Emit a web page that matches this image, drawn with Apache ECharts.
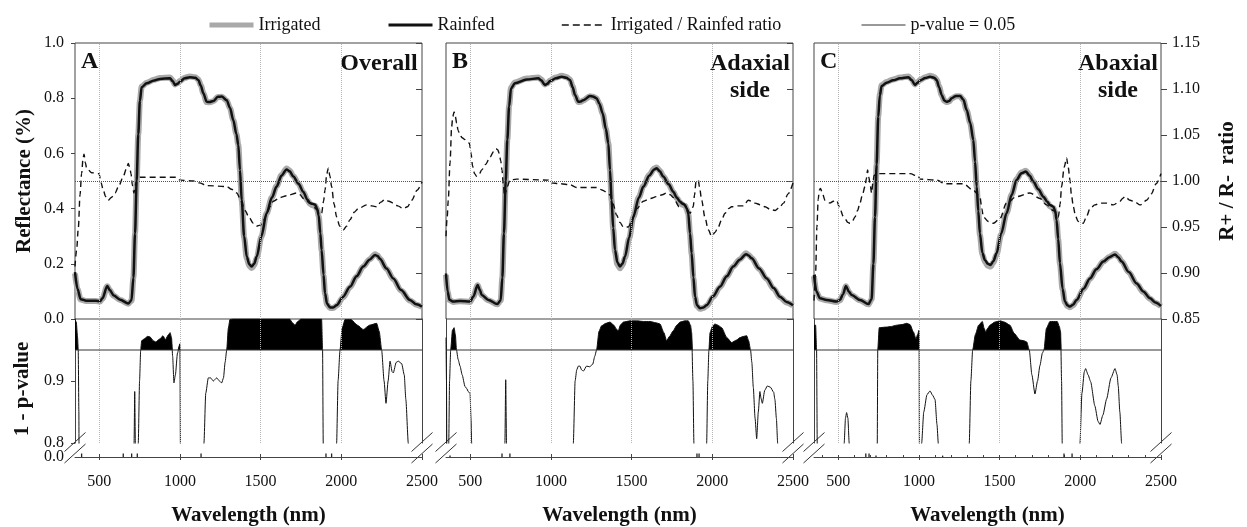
<!DOCTYPE html>
<html>
<head>
<meta charset="utf-8">
<script src="https://cdn.jsdelivr.net/npm/echarts@6/dist/echarts.min.js"></script>
<style>
  html, body { margin: 0; padding: 0; background: #fff; }
  #chart { width: 1247px; height: 527px; }
</style>
</head>
<body>
<div id="chart"></div>
<script>
// ---------------- data ----------------
const panelLetters = ['A', 'B', 'C'];
const panelTitles = ['Overall', 'Adaxial\nside', 'Abaxial\nside'];
const xTickValues = [500, 1000, 1500, 2000, 2500];
const minorTickValuesC = [400, 500, 600, 700, 800, 900, 1000, 1100, 1200, 1300, 1400, 1500, 1600, 1700, 1800, 1900, 2000, 2100, 2200, 2300, 2400, 2500];
const gridWavelengths = [500, 1000, 1500, 2000];
const ratioReference = 1.0;
const pThreshold = 0.95;   // 1 - p for p = 0.05

// Reflectance, panel A (overall)
const rainfedA = [[350,0.17],[365,0.11],[385,0.072],[420,0.066],[480,0.066],[505,0.064],[520,0.075],[550,0.12],[565,0.105],[590,0.085],[630,0.07],[680,0.056],[700,0.068],[712,0.15],[722,0.31],[732,0.5],[742,0.67],[752,0.79],[763,0.84],[794,0.854],[840,0.864],[877,0.87],[939,0.872],[955,0.862],[970,0.848],[985,0.852],[1000,0.86],[1030,0.872],[1062,0.876],[1095,0.874],[1114,0.866],[1130,0.845],[1145,0.818],[1166,0.787],[1185,0.786],[1207,0.79],[1235,0.805],[1259,0.806],[1290,0.793],[1310,0.765],[1331,0.72],[1350,0.67],[1362,0.63],[1372,0.54],[1383,0.43],[1398,0.3],[1414,0.226],[1430,0.198],[1445,0.19],[1460,0.2],[1476,0.226],[1505,0.3],[1537,0.383],[1570,0.44],[1599,0.48],[1630,0.52],[1661,0.542],[1680,0.535],[1703,0.516],[1735,0.49],[1765,0.46],[1790,0.432],[1806,0.42],[1820,0.418],[1837,0.415],[1850,0.4],[1860,0.375],[1870,0.31],[1878,0.25],[1890,0.16],[1899,0.093],[1912,0.055],[1930,0.042],[1950,0.042],[1971,0.05],[2010,0.08],[2054,0.117],[2095,0.155],[2136,0.19],[2175,0.215],[2209,0.232],[2225,0.228],[2239,0.218],[2280,0.183],[2322,0.147],[2370,0.105],[2425,0.069],[2465,0.053],[2500,0.045]];
const irrigatedA = [[350,0.165],[365,0.108],[385,0.071],[420,0.065],[480,0.065],[505,0.063],[520,0.074],[550,0.119],[565,0.104],[590,0.084],[630,0.069],[680,0.055],[700,0.067],[712,0.15],[722,0.31],[732,0.5],[742,0.67],[752,0.79],[763,0.842],[794,0.856],[840,0.867],[877,0.873],[939,0.875],[955,0.864],[970,0.85],[985,0.854],[1000,0.862],[1030,0.874],[1062,0.879],[1095,0.876],[1114,0.868],[1130,0.846],[1145,0.818],[1166,0.786],[1185,0.785],[1207,0.789],[1235,0.804],[1259,0.805],[1290,0.792],[1310,0.764],[1331,0.72],[1350,0.67],[1362,0.63],[1372,0.54],[1383,0.43],[1398,0.295],[1414,0.22],[1430,0.192],[1445,0.185],[1460,0.195],[1476,0.222],[1505,0.298],[1537,0.383],[1570,0.441],[1599,0.482],[1630,0.522],[1661,0.545],[1680,0.537],[1703,0.517],[1735,0.49],[1765,0.459],[1790,0.43],[1806,0.418],[1820,0.412],[1837,0.41],[1850,0.398],[1860,0.373],[1870,0.308],[1878,0.248],[1890,0.158],[1899,0.09],[1912,0.052],[1930,0.04],[1950,0.04],[1971,0.048],[2010,0.078],[2054,0.115],[2095,0.154],[2136,0.19],[2175,0.216],[2209,0.235],[2225,0.23],[2239,0.219],[2280,0.182],[2322,0.145],[2370,0.103],[2425,0.067],[2465,0.052],[2500,0.044]];

// Reflectance, panel B (adaxial side)
const rainfedB = [[350,0.165],[360,0.1],[371,0.07],[395,0.063],[437,0.065],[499,0.063],[519,0.081],[546,0.123],[560,0.105],[571,0.087],[612,0.069],[668,0.054],[689,0.068],[699,0.15],[709,0.31],[720,0.5],[730,0.65],[741,0.77],[753,0.836],[777,0.854],[850,0.868],[922,0.872],[940,0.865],[963,0.848],[978,0.852],[994,0.862],[1030,0.872],[1067,0.878],[1095,0.874],[1118,0.866],[1135,0.84],[1149,0.812],[1170,0.787],[1185,0.788],[1201,0.793],[1242,0.808],[1260,0.806],[1283,0.8],[1300,0.78],[1321,0.745],[1340,0.69],[1356,0.636],[1366,0.54],[1376,0.431],[1386,0.33],[1397,0.25],[1412,0.205],[1428,0.19],[1443,0.2],[1459,0.226],[1485,0.295],[1511,0.371],[1545,0.44],[1573,0.48],[1610,0.52],[1640,0.542],[1655,0.546],[1675,0.535],[1696,0.516],[1730,0.488],[1758,0.461],[1780,0.44],[1800,0.425],[1815,0.418],[1831,0.413],[1842,0.4],[1851,0.383],[1862,0.31],[1872,0.238],[1883,0.15],[1893,0.081],[1905,0.05],[1924,0.039],[1945,0.042],[1965,0.05],[2005,0.082],[2047,0.117],[2090,0.155],[2130,0.19],[2170,0.215],[2209,0.235],[2225,0.23],[2244,0.22],[2290,0.183],[2337,0.147],[2380,0.112],[2419,0.081],[2460,0.062],[2500,0.05]];
const irrigatedB = [[350,0.16],[360,0.098],[371,0.069],[395,0.062],[437,0.064],[499,0.062],[519,0.08],[546,0.122],[560,0.104],[571,0.086],[612,0.068],[668,0.053],[689,0.067],[699,0.15],[709,0.31],[720,0.5],[730,0.65],[741,0.772],[753,0.839],[777,0.857],[850,0.871],[922,0.875],[940,0.868],[963,0.85],[978,0.854],[994,0.864],[1030,0.875],[1067,0.881],[1095,0.877],[1118,0.868],[1135,0.842],[1149,0.812],[1170,0.786],[1185,0.787],[1201,0.792],[1242,0.807],[1260,0.805],[1283,0.799],[1300,0.779],[1321,0.744],[1340,0.69],[1356,0.636],[1366,0.54],[1376,0.43],[1386,0.325],[1397,0.244],[1412,0.198],[1428,0.184],[1443,0.195],[1459,0.222],[1485,0.292],[1511,0.37],[1545,0.441],[1573,0.482],[1610,0.522],[1640,0.545],[1655,0.549],[1675,0.537],[1696,0.517],[1730,0.488],[1758,0.46],[1780,0.438],[1800,0.422],[1815,0.414],[1831,0.41],[1842,0.398],[1851,0.381],[1862,0.308],[1872,0.236],[1883,0.148],[1893,0.078],[1905,0.047],[1924,0.037],[1945,0.04],[1965,0.048],[2005,0.08],[2047,0.115],[2090,0.154],[2130,0.19],[2170,0.216],[2209,0.238],[2225,0.232],[2244,0.221],[2290,0.182],[2337,0.145],[2380,0.11],[2419,0.079],[2460,0.06],[2500,0.049]];

// Reflectance, panel C (abaxial side)
const rainfedC = [[350,0.16],[365,0.1],[387,0.075],[428,0.069],[490,0.063],[511,0.069],[530,0.09],[548,0.12],[565,0.1],[583,0.087],[635,0.069],[687,0.054],[707,0.072],[718,0.2],[728,0.37],[738,0.56],[748,0.733],[758,0.81],[769,0.844],[800,0.856],[840,0.865],[883,0.872],[935,0.876],[955,0.866],[976,0.848],[990,0.855],[1007,0.864],[1040,0.873],[1069,0.878],[1095,0.874],[1110,0.866],[1125,0.84],[1141,0.812],[1157,0.792],[1172,0.787],[1188,0.79],[1203,0.8],[1230,0.808],[1255,0.808],[1275,0.795],[1296,0.757],[1318,0.71],[1337,0.649],[1348,0.57],[1358,0.48],[1368,0.39],[1378,0.31],[1393,0.24],[1409,0.214],[1427,0.2],[1444,0.196],[1462,0.21],[1481,0.238],[1510,0.31],[1543,0.383],[1575,0.45],[1605,0.504],[1635,0.528],[1663,0.534],[1685,0.52],[1709,0.498],[1740,0.47],[1771,0.443],[1795,0.425],[1812,0.413],[1833,0.407],[1845,0.39],[1853,0.359],[1863,0.29],[1874,0.202],[1890,0.11],[1905,0.063],[1920,0.05],[1936,0.045],[1955,0.052],[1977,0.069],[2020,0.11],[2060,0.147],[2100,0.18],[2143,0.208],[2180,0.224],[2215,0.234],[2235,0.224],[2256,0.208],[2300,0.17],[2349,0.129],[2390,0.1],[2432,0.075],[2465,0.06],[2500,0.047]];
const irrigatedC = [[350,0.155],[365,0.098],[387,0.074],[428,0.068],[490,0.062],[511,0.068],[530,0.089],[548,0.119],[565,0.099],[583,0.086],[635,0.068],[687,0.053],[707,0.071],[718,0.2],[728,0.37],[738,0.56],[748,0.735],[758,0.813],[769,0.847],[800,0.859],[840,0.868],[883,0.875],[935,0.879],[955,0.869],[976,0.85],[990,0.857],[1007,0.866],[1040,0.876],[1069,0.881],[1095,0.877],[1110,0.868],[1125,0.842],[1141,0.812],[1157,0.791],[1172,0.786],[1188,0.789],[1203,0.799],[1230,0.807],[1255,0.807],[1275,0.794],[1296,0.756],[1318,0.71],[1337,0.649],[1348,0.57],[1358,0.478],[1368,0.386],[1378,0.305],[1393,0.234],[1409,0.207],[1427,0.193],[1444,0.19],[1462,0.205],[1481,0.234],[1510,0.307],[1543,0.383],[1575,0.451],[1605,0.506],[1635,0.531],[1663,0.537],[1685,0.522],[1709,0.499],[1740,0.47],[1771,0.442],[1795,0.422],[1812,0.408],[1833,0.402],[1845,0.386],[1853,0.356],[1863,0.288],[1874,0.2],[1890,0.108],[1905,0.06],[1920,0.047],[1936,0.043],[1955,0.05],[1977,0.067],[2020,0.108],[2060,0.145],[2100,0.179],[2143,0.208],[2180,0.225],[2215,0.236],[2235,0.226],[2256,0.209],[2300,0.169],[2349,0.127],[2390,0.098],[2432,0.073],[2465,0.058],[2500,0.046]];

// Irrigated / Rainfed ratio
const ratioA = [[350,0.907],[360,0.925],[371,0.95],[381,0.985],[391,1.008],[400,1.025],[406,1.029],[414,1.02],[422,1.014],[453,1.009],[499,1.008],[512,0.998],[525,0.99],[540,0.983],[556,0.979],[575,0.982],[598,0.987],[625,0.996],[649,1.005],[668,1.013],[680,1.019],[689,1.015],[697,1.008],[706,0.995],[715,0.987],[723,0.995],[732,1.001],[753,1.004],[980,1.004],[1000,1.001],[1083,1.0],[1120,0.998],[1166,0.995],[1290,0.994],[1320,0.991],[1352,0.987],[1380,0.978],[1403,0.968],[1430,0.96],[1455,0.954],[1475,0.951],[1497,0.952],[1517,0.957],[1537,0.963],[1558,0.972],[1579,0.978],[1620,0.982],[1661,0.984],[1724,0.987],[1745,0.985],[1765,0.981],[1806,0.976],[1828,0.972],[1847,0.969],[1865,0.965],[1878,0.965],[1890,0.978],[1899,0.99],[1910,1.008],[1920,1.014],[1930,1.005],[1940,0.994],[1955,0.975],[1971,0.961],[1990,0.951],[2013,0.947],[2033,0.951],[2054,0.958],[2080,0.966],[2105,0.97],[2157,0.974],[2190,0.973],[2219,0.972],[2245,0.977],[2270,0.98],[2295,0.978],[2322,0.976],[2350,0.973],[2384,0.97],[2410,0.972],[2436,0.979],[2470,0.99],[2500,0.999]];
const ratioB = [[350,0.94],[357,0.96],[364,0.979],[375,1.02],[385,1.059],[392,1.07],[400,1.075],[408,1.07],[416,1.063],[425,1.055],[437,1.05],[450,1.047],[468,1.045],[480,1.043],[495,1.041],[505,1.03],[515,1.016],[527,1.008],[540,1.005],[555,1.007],[571,1.012],[595,1.018],[623,1.026],[645,1.032],[660,1.035],[670,1.034],[680,1.03],[689,1.022],[697,1.012],[705,0.996],[713,0.983],[721,0.988],[730,0.994],[746,1.001],[788,1.002],[984,1.001],[994,0.998],[1060,0.997],[1118,0.996],[1159,0.993],[1283,0.993],[1320,0.99],[1350,0.987],[1366,0.985],[1385,0.975],[1407,0.963],[1428,0.955],[1449,0.95],[1480,0.95],[1505,0.958],[1532,0.97],[1573,0.978],[1615,0.981],[1655,0.983],[1690,0.985],[1717,0.987],[1740,0.985],[1758,0.982],[1795,0.972],[1808,0.974],[1820,0.976],[1840,0.97],[1862,0.965],[1882,0.972],[1890,0.985],[1899,0.999],[1913,1.001],[1922,0.992],[1934,0.979],[1955,0.96],[1975,0.947],[1996,0.94],[2016,0.944],[2037,0.95],[2058,0.958],[2079,0.965],[2100,0.97],[2120,0.972],[2160,0.973],[2192,0.973],[2223,0.979],[2245,0.978],[2265,0.976],[2300,0.974],[2327,0.972],[2360,0.969],[2389,0.968],[2415,0.971],[2441,0.976],[2470,0.986],[2500,0.998]];
const ratioC = [[350,0.87],[360,0.9],[368,0.95],[376,0.98],[383,0.99],[390,0.992],[400,0.988],[418,0.979],[449,0.976],[470,0.978],[490,0.979],[511,0.97],[530,0.962],[542,0.959],[560,0.955],[573,0.954],[590,0.957],[604,0.961],[620,0.968],[635,0.976],[650,0.985],[666,0.994],[675,1.003],[682,1.012],[690,1.004],[697,0.997],[707,0.987],[715,0.998],[722,1.006],[749,1.008],[945,1.008],[996,1.005],[1007,1.002],[1110,1.001],[1162,0.997],[1275,0.997],[1337,0.99],[1378,0.983],[1390,0.97],[1399,0.961],[1430,0.956],[1461,0.954],[1502,0.959],[1543,0.976],[1605,0.983],[1688,0.987],[1750,0.981],[1791,0.974],[1833,0.968],[1864,0.961],[1875,0.975],[1884,0.994],[1900,1.015],[1915,1.025],[1925,1.015],[1936,1.001],[1945,0.985],[1957,0.972],[1970,0.962],[1987,0.956],[2000,0.954],[2018,0.954],[2040,0.962],[2060,0.97],[2090,0.974],[2122,0.976],[2160,0.976],[2204,0.974],[2246,0.978],[2262,0.981],[2277,0.983],[2290,0.981],[2308,0.979],[2340,0.977],[2370,0.974],[2411,0.979],[2440,0.986],[2470,0.997],[2500,1.008]];

// 1 - p-value (values under 0.8 fall in the axis break and are cut off)
const pCurveA = [[350,1.0],[358,0.995],[366,0.97],[370,0.95],[374,0.85],[376,0.7],[713,0.7],[716,0.8],[720,0.883],[724,0.8],[727,0.7],[739,0.7],[742,0.8],[750,0.9],[757,0.95],[763,0.965],[780,0.968],[800,0.972],[815,0.971],[835,0.965],[850,0.963],[877,0.968],[895,0.973],[910,0.967],[930,0.975],[939,0.978],[948,0.97],[955,0.94],[963,0.897],[972,0.91],[985,0.945],[1000,0.96],[1003,0.8],[1004,0.7],[1145,0.7],[1149,0.8],[1160,0.88],[1176,0.905],[1190,0.905],[1207,0.9],[1228,0.905],[1245,0.9],[1259,0.897],[1270,0.905],[1280,0.93],[1290,0.95],[1300,0.985],[1310,0.999],[1330,1.0],[1680,1.0],[1697,0.994],[1713,0.99],[1730,0.996],[1750,1.0],[1878,1.0],[1884,0.95],[1888,0.8],[1890,0.7],[1966,0.7],[1971,0.8],[1980,0.9],[1992,0.95],[2005,0.985],[2023,0.999],[2060,0.999],[2100,0.99],[2136,0.983],[2175,0.99],[2219,0.993],[2235,0.98],[2250,0.95],[2265,0.9],[2277,0.864],[2290,0.9],[2302,0.932],[2315,0.915],[2322,0.913],[2340,0.93],[2353,0.932],[2374,0.928],[2390,0.91],[2400,0.87],[2415,0.8],[2420,0.7],[2500,0.7]];
const pCurveB = [[350,0.97],[353,0.9],[355,0.8],[357,0.7],[364,0.7],[367,0.8],[372,0.9],[379,0.95],[390,0.982],[400,0.986],[408,0.975],[415,0.95],[425,0.935],[437,0.924],[450,0.91],[468,0.891],[478,0.888],[488,0.883],[499,0.88],[505,0.84],[509,0.8],[511,0.7],[713,0.7],[715,0.8],[720,0.902],[725,0.8],[727,0.7],[1135,0.7],[1139,0.8],[1150,0.9],[1160,0.918],[1170,0.924],[1180,0.924],[1190,0.918],[1201,0.916],[1221,0.924],[1240,0.923],[1259,0.927],[1272,0.94],[1283,0.95],[1298,0.98],[1314,0.989],[1340,0.993],[1366,0.995],[1390,0.99],[1405,0.984],[1418,0.981],[1430,0.99],[1449,0.995],[1490,0.997],[1531,0.997],[1574,0.996],[1614,0.996],[1650,0.994],[1676,0.992],[1700,0.978],[1717,0.965],[1735,0.972],[1758,0.981],[1780,0.99],[1800,0.995],[1830,0.997],[1851,0.997],[1865,0.99],[1872,0.978],[1880,0.9],[1886,0.8],[1888,0.7],[1960,0.7],[1965,0.8],[1972,0.9],[1979,0.95],[1986,0.978],[2000,0.988],[2016,0.992],[2035,0.99],[2058,0.986],[2090,0.97],[2120,0.962],[2150,0.966],[2171,0.97],[2195,0.972],[2213,0.973],[2225,0.965],[2237,0.95],[2245,0.93],[2254,0.89],[2265,0.84],[2275,0.807],[2285,0.85],[2295,0.883],[2302,0.872],[2310,0.864],[2325,0.885],[2341,0.892],[2360,0.89],[2380,0.882],[2388,0.87],[2397,0.84],[2405,0.8],[2408,0.7],[2500,0.7]];
const pCurveC = [[350,0.99],[360,0.99],[366,0.95],[370,0.8],[372,0.7],[533,0.7],[537,0.8],[545,0.84],[552,0.849],[560,0.84],[568,0.8],[570,0.7],[739,0.7],[742,0.8],[745,0.95],[754,0.986],[800,0.987],[830,0.988],[862,0.99],[895,0.991],[924,0.993],[945,0.991],[966,0.979],[982,0.968],[992,0.975],[1001,0.982],[1003,0.8],[1004,0.7],[1013,0.7],[1017,0.8],[1030,0.85],[1050,0.878],[1069,0.884],[1085,0.877],[1100,0.87],[1112,0.83],[1120,0.8],[1122,0.7],[1308,0.7],[1312,0.8],[1322,0.9],[1333,0.95],[1350,0.975],[1370,0.99],[1393,0.996],[1404,0.985],[1414,0.979],[1426,0.985],[1440,0.99],[1470,0.995],[1503,0.997],[1530,0.995],[1564,0.99],[1590,0.977],[1626,0.966],[1650,0.965],[1668,0.963],[1684,0.95],[1700,0.91],[1719,0.879],[1735,0.9],[1750,0.925],[1765,0.945],[1775,0.95],[1790,0.985],[1812,0.996],[1857,0.996],[1870,0.988],[1878,0.979],[1884,0.9],[1888,0.8],[1890,0.7],[1994,0.7],[1998,0.8],[2010,0.88],[2025,0.915],[2033,0.92],[2048,0.91],[2064,0.899],[2090,0.86],[2110,0.835],[2122,0.83],[2140,0.845],[2163,0.871],[2190,0.905],[2215,0.92],[2228,0.91],[2235,0.892],[2245,0.85],[2256,0.8],[2258,0.7],[2500,0.7]];

// short 1 - p marks just above 0.0, below the axis break
const lowMarksA = [[391,0.2],[649,0.2],[701,0.2],[736,0.2],[1131,0.2],[1905,0.2],[1940,0.2]];
const lowMarksB = [[375,0.08],[697,0.2],[746,0.2],[1905,0.2],[1918,0.2]];
const lowMarksC = [[671,0.2],[691,0.2],[734,0.08],[1147,0.08],[1899,0.2],[1949,0.2]];

// ---------------- layout & style ----------------
const FONT = 'Liberation Serif';
const INK = '#111';
const AXIS = '#444';
const PANEL_LEFT = [75, 446, 814];
const PANEL_W = 347;
const TOP_Y = 43, TOP_H = 276;     // reflectance / ratio plot
const UP_Y = 319, UP_H = 124;      // 1 - p from 0.8 to 1.0
const LO_Y = 443, LO_H = 15;       // 0.0 strip under the break
const X_MIN = 350, X_MAX = 2500;

const panels = [
  { irrigated: irrigatedA, rainfed: rainfedA, ratio: ratioA, p: pCurveA, marks: lowMarksA },
  { irrigated: irrigatedB, rainfed: rainfedB, ratio: ratioB, p: pCurveB, marks: lowMarksB },
  { irrigated: irrigatedC, rainfed: rainfedC, ratio: ratioC, p: pCurveC, marks: lowMarksC }
];

const tickText = { fontFamily: FONT, fontSize: 16, color: INK };
const titleText = { fontFamily: FONT, fontSize: 21, fontWeight: 'bold', color: INK };

const grid = [], xAxis = [], yAxis = [], series = [], graphic = [];

panels.forEach((pn, p) => {
  const left = PANEL_LEFT[p];
  const gTop = grid.length;
  grid.push({ left, width: PANEL_W, top: TOP_Y, height: TOP_H, show: true,
              borderColor: AXIS, borderWidth: 1, backgroundColor: 'transparent' });
  grid.push({ left, width: PANEL_W, top: UP_Y, height: UP_H });
  grid.push({ left, width: PANEL_W, top: LO_Y, height: LO_H });

  // x axes
  const xTop = xAxis.length;
  xAxis.push({ gridIndex: gTop, type: 'value', min: X_MIN, max: X_MAX, show: false });
  const xUp = xAxis.length;
  xAxis.push({ gridIndex: gTop + 1, type: 'value', min: X_MIN, max: X_MAX, show: false });
  const xLo = xAxis.length;
  xAxis.push({
    gridIndex: gTop + 2, type: 'value', min: X_MIN, max: X_MAX, position: 'bottom',
    axisLine: { show: true, lineStyle: { color: AXIS, width: 1 } },
    axisTick: { show: true, inside: false, length: 3, customValues: xTickValues, lineStyle: { color: AXIS } },
    axisLabel: { show: true, customValues: xTickValues, margin: 17, formatter: v => String(v), ...tickText },
    splitLine: { show: false },
    name: 'Wavelength (nm)', nameLocation: 'middle', nameGap: 48, nameTextStyle: titleText
  });
  xAxis.push({
    gridIndex: gTop + 2, type: 'value', min: X_MIN, max: X_MAX, position: 'top', offset: -LO_H,
    axisLine: { show: false },
    axisTick: { show: true, inside: false, length: p === 2 ? 3 : 4,
                customValues: p === 2 ? minorTickValuesC : xTickValues, lineStyle: { color: AXIS } },
    axisLabel: { show: false }, splitLine: { show: false }
  });

  // y axes
  const yRefl = yAxis.length;
  yAxis.push({
    gridIndex: gTop, type: 'value', min: 0, max: 1, interval: 0.2, position: 'left',
    axisLine: { show: false },
    axisTick: { show: p === 0, length: 4, lineStyle: { color: AXIS } },
    axisLabel: { show: p === 0, margin: 11, formatter: v => v.toFixed(1), ...tickText },
    splitLine: { show: false },
    name: p === 0 ? 'Reflectance (%)' : '', nameLocation: 'middle', nameGap: 40, nameTextStyle: titleText
  });
  const yRatio = yAxis.length;
  yAxis.push({
    gridIndex: gTop, type: 'value', min: 0.85, max: 1.15, interval: 0.05, position: 'right',
    axisLine: { show: false },
    axisTick: { show: true, inside: p !== 2, length: 6, lineStyle: { color: AXIS } },
    axisLabel: { show: p === 2, margin: 11, formatter: v => v.toFixed(2), ...tickText },
    splitLine: { show: false },
    name: p === 2 ? 'R+ / R-  ratio' : '', nameLocation: 'middle', nameRotate: 90, nameGap: 56,
    nameTextStyle: titleText
  });
  const yUp = yAxis.length;
  yAxis.push({
    gridIndex: gTop + 1, type: 'value', min: 0.8, max: 1.0, interval: 0.1, position: 'left',
    axisLine: { show: true, lineStyle: { color: AXIS, width: 1 } },
    axisTick: { show: p === 0, length: 4, lineStyle: { color: AXIS } },
    axisLabel: { show: p === 0, margin: 11, showMaxLabel: false, formatter: v => v.toFixed(1), ...tickText },
    splitLine: { show: false }
  });
  yAxis.push({
    gridIndex: gTop + 1, type: 'value', min: 0.8, max: 1.0, position: 'right',
    axisLine: { show: true, lineStyle: { color: AXIS, width: 1 } },
    axisTick: { show: false }, axisLabel: { show: false }, splitLine: { show: false }
  });
  const yLo = yAxis.length;
  yAxis.push({
    gridIndex: gTop + 2, type: 'value', min: 0, max: 0.8, position: 'left',
    axisLine: { show: false }, axisTick: { show: false },
    axisLabel: { show: p === 0, margin: 11, customValues: [0], formatter: v => v.toFixed(1), ...tickText },
    splitLine: { show: false }
  });

  const vGrid = {
    silent: true, symbol: 'none', label: { show: false },
    lineStyle: { type: 'dotted', color: '#b5b5b5', width: 1 },
    data: gridWavelengths.map(v => ({ xAxis: v }))
  };

  series.push({
    name: 'Irrigated', type: 'line', xAxisIndex: xTop, yAxisIndex: yRefl, data: pn.irrigated,
    symbol: 'none', smooth: 0.3, smoothMonotone: 'x', z: 2,
    lineStyle: { color: '#a9a9a9', width: 6 }, itemStyle: { color: '#a9a9a9' },
    markLine: vGrid
  });
  series.push({
    name: 'Rainfed', type: 'line', xAxisIndex: xTop, yAxisIndex: yRefl, data: pn.rainfed,
    symbol: 'none', smooth: 0.3, smoothMonotone: 'x', z: 3,
    lineStyle: { color: INK, width: 2.5 }, itemStyle: { color: INK }
  });
  series.push({
    name: 'Irrigated / Rainfed ratio', type: 'line', xAxisIndex: xTop, yAxisIndex: yRatio, data: pn.ratio,
    symbol: 'none', smooth: 0.3, smoothMonotone: 'x', z: 4,
    lineStyle: { color: INK, width: 1.4, type: [6, 4] }, itemStyle: { color: INK },
    markLine: {
      silent: true, symbol: 'none', label: { show: false },
      lineStyle: { type: 'dotted', color: '#555', width: 1 },
      data: [{ yAxis: ratioReference }]
    }
  });
  // black fill where 1 - p exceeds the 0.95 line
  series.push({
    name: 'significant', type: 'line', xAxisIndex: xUp, yAxisIndex: yUp,
    data: pn.p.map(([x, v]) => [x, Math.max(v, pThreshold)]),
    symbol: 'none', smooth: 0.2, smoothMonotone: 'x', z: 3,
    lineStyle: { width: 0 }, areaStyle: { color: '#000', opacity: 1, origin: pThreshold }
  });
  series.push({
    name: '1 - p-value', type: 'line', xAxisIndex: xUp, yAxisIndex: yUp, data: pn.p,
    symbol: 'none', smooth: 0.2, smoothMonotone: 'x', clip: true, z: 4,
    lineStyle: { color: INK, width: 1 }
  });
  series.push({
    name: 'p-value = 0.05', type: 'line', xAxisIndex: xUp, yAxisIndex: yUp,
    data: [[X_MIN, pThreshold], [X_MAX, pThreshold]],
    symbol: 'none', z: 5, lineStyle: { color: '#333', width: 1 }, itemStyle: { color: '#333' },
    markLine: vGrid
  });
  series.push({
    name: 'low', type: 'bar', xAxisIndex: xLo, yAxisIndex: yLo, data: pn.marks,
    barWidth: 1.3, itemStyle: { color: '#222' }, silent: true
  });

  // panel letter and title
  graphic.push({
    type: 'text', x: left + 6, y: 50, silent: true,
    style: { text: panelLetters[p], font: `bold 24px "${FONT}"`, fill: INK, align: 'left', verticalAlign: 'top' }
  });
  graphic.push({
    type: 'text', x: left + PANEL_W - 43, y: 50, silent: true,
    style: { text: panelTitles[p], font: `bold 24px "${FONT}"`, lineHeight: 27, fill: INK,
             align: 'center', verticalAlign: 'top' }
  });

  // axis-break slashes on both edges of the panel
  [left, left + PANEL_W].forEach(ex => {
    [442, 453.5].forEach(cy => {
      graphic.push({
        type: 'line', silent: true,
        shape: { x1: ex - 10.5, y1: cy + 9.5, x2: ex + 10.5, y2: cy - 9.5 },
        style: { stroke: '#333', lineWidth: 1 }
      });
    });
  });
});

graphic.push({
  type: 'text', x: 23, y: 389, rotation: Math.PI / 2, silent: true,
  style: { text: '1 - p-value', font: `bold 21px "${FONT}"`, fill: INK, align: 'center', verticalAlign: 'middle' }
});

// legend: line-only keys (the symbol part of the key is made invisible)
const legendBase = {
  top: 11, itemWidth: 44, itemHeight: 18, selectedMode: false, itemGap: 0,
  itemStyle: { opacity: 0, borderWidth: 0 },
  textStyle: { fontFamily: FONT, fontSize: 18, color: INK }
};

const option = {
  backgroundColor: '#fff',
  animation: false,
  legend: [
    { ...legendBase, left: 202, data: ['Irrigated'], lineStyle: { width: 5, color: '#a9a9a9' } },
    { ...legendBase, left: 382, data: ['Rainfed'], lineStyle: { width: 3, color: INK } },
    { ...legendBase, left: 556, data: ['Irrigated / Rainfed ratio'], lineStyle: { width: 1.6, color: INK, type: [7, 4] } },
    { ...legendBase, left: 856, data: ['p-value = 0.05'], lineStyle: { width: 1, color: '#333' } }
  ],
  grid, xAxis, yAxis, series, graphic
};

const chart = echarts.init(document.getElementById('chart'), null, { renderer: 'canvas' });
chart.setOption(option);
</script>
</body>
</html>
